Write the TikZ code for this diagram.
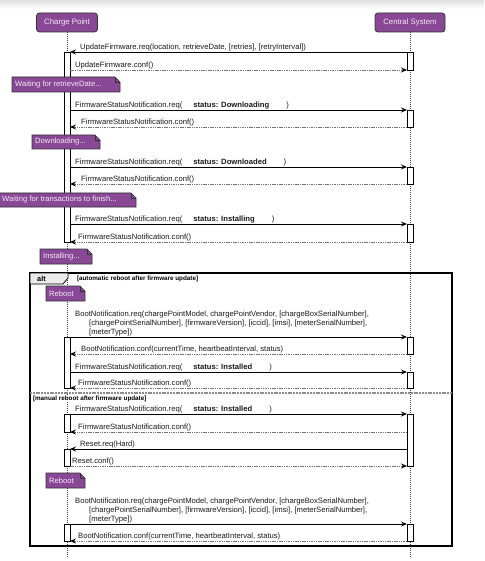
\documentclass[tikz,border=0pt]{standalone}
\usepackage{fontspec}
\setmainfont{Liberation Sans}
\usetikzlibrary{arrows.meta}
\definecolor{pum}{RGB}{137,72,150}
\definecolor{pumtext}{RGB}{245,232,247}
\newcommand{\NoteBox}[6]{%
  \filldraw[notefill] (#2,#3) -- ({#4-5},#3) -- (#4,{#3+5}) -- (#4,#5) -- (#2,#5) -- cycle;
  \draw[notefill, fill=none] ({#4-5},#3) -- ({#4-5},{#3+5}) -- (#4,{#3+5});
  \node[notetext] (#1) at ({#2+1},{(#3+#5)/2}) {#6};}
\newcommand{\Act}[4]{\node[actbox, minimum height={(#4-#3)*1pt}] (#1) at (#2,#3) {};}
\begin{document}
\begin{tikzpicture}[x=1pt,y=-1pt,
  part/.style={draw=black!80, line width=0.8pt, fill=pum, rounded corners=3pt, text=pumtext,
    font=\fontsize{7.8}{9}\selectfont, inner sep=0pt},
  lifeline/.style={draw=black!75, line width=0.7pt, dash pattern=on 1pt off 1pt},
  actbox/.style={draw=black, fill=white, line width=0.9pt, minimum width=6pt, inner sep=0pt, outer sep=0pt, anchor=north},
  req/.style={draw=black, line width=0.9pt, -{Stealth[length=6pt,width=5pt,inset=2pt]}},
  conf/.style={draw=black!55, line width=0.9pt, dash pattern=on 1.5pt off 0.8pt, -{Stealth[length=6pt,width=5pt,inset=2pt,black]}},
  msg/.style={font=\fontsize{7.65}{9}\selectfont, inner sep=0pt, anchor=base west, text=black!90},
  msgml/.style={font=\fontsize{7.65}{9}\selectfont, inner sep=0pt, anchor=south west, align=left, text=black!90},
  notefill/.style={draw=black!80, line width=0.7pt, fill=pum},
  notetext/.style={anchor=west, text=pumtext, font=\fontsize{7.65}{9}\selectfont, inner sep=2pt},
  frame/.style={draw=black, line width=1.2pt, inner sep=0pt, outer sep=0pt},
  tab/.style={draw=black, line width=0.8pt, fill=black!8},
  guard/.style={font=\bfseries\fontsize{6.3}{8}\selectfont, inner sep=0.8pt, anchor=west, fill=white},
  sepline/.style={draw=black!45, line width=1.1pt, dash pattern=on 2pt off 0.8pt}]
\useasboundingbox (0,0) rectangle (484,561);
\fill[white] (0,0) rectangle (484,561);
\shade[top color=black!12, bottom color=white] (0,0) rectangle (484,9);

% participants
\node[part, minimum width=61pt, minimum height=19pt] (cp) at (67,22.5) {Charge Point};
\node[part, minimum width=70pt, minimum height=19pt] (cs) at (410,22.5) {Central System};
\coordinate (cpEnd) at (67,558);
\coordinate (csEnd) at (410,558);
\draw[lifeline] (cp.south) -- (cpEnd);
\draw[lifeline] (cs.south) -- (csEnd);

% alt frame
\node[frame, minimum width=422pt, minimum height=273pt, anchor=north west] (altf) at (30,273) {};
\filldraw[tab] (altf.north west) -- (68,273) -- (68,278) -- (63,284) -- (30,284) -- cycle;
\node[font=\bfseries\fontsize{7.4}{8}\selectfont, inner sep=0pt, anchor=base west] (altlbl) at (37,281.6) {alt};
\node[guard] (g1) at (76,278.5) {[automatic reboot after firmware update]};
\coordinate (sepL) at (30,393);
\coordinate (sepR) at (452,393);
\draw[sepline] (sepL) -- (sepR);
\node[guard] (g2) at (32,398.5) {[manual reboot after firmware update]};

% activation boxes
\Act{cpA}{67}{52}{242}
\Act{cpB}{67}{337}{388}
\Act{cpC}{67}{414}{432}
\Act{cpD}{67}{449}{466}
\Act{cpE}{67}{524}{541}
\Act{csA}{410}{52}{70}
\Act{csB}{410}{110}{127}
\Act{csC}{410}{167}{184}
\Act{csD}{410}{224}{242}
\Act{csE}{410}{337}{354}
\Act{csF}{410}{372}{388}
\Act{csG}{410}{414}{466}
\Act{csH}{410}{524}{541}

% messages
\draw[req] (csA.north west) -- (cpA.north east);
\node[msg] (m1) at (80,49.5) {UpdateFirmware.req(location, retrieveDate, [retries], [retryInterval])};
\draw[conf] (cpA.east |- csA.south) -- (csA.south west);
\node[msg] (m2) at (75,67.5) {UpdateFirmware.conf()};

\NoteBox{n1}{12}{77}{120}{92}{Waiting for retrieveDate...}

\draw[req] (cpA.east |- csB.north) -- (csB.north west);
\node[msg] (m3) at (75,107.5) {FirmwareStatusNotification.req(\hspace{11pt}\textbf{status: Downloading}\hspace{17pt})};
\draw[conf] (csB.south west) -- (cpA.east |- csB.south);
\node[msg] (m4) at (81,124.5) {FirmwareStatusNotification.conf()};

\NoteBox{n2}{32}{135}{100}{149}{Downloading...}

\draw[req] (cpA.east |- csC.north) -- (csC.north west);
\node[msg] (m5) at (75,164.5) {FirmwareStatusNotification.req(\hspace{11pt}\textbf{status: Downloaded}\hspace{17pt})};
\draw[conf] (csC.south west) -- (cpA.east |- csC.south);
\node[msg] (m6) at (81,181.5) {FirmwareStatusNotification.conf()};

\NoteBox{n3}{-1}{193}{136}{207}{Waiting for transactions to finish...}

\draw[req] (cpA.east |- csD.north) -- (csD.north west);
\node[msg] (m7) at (75,221.5) {FirmwareStatusNotification.req(\hspace{11pt}\textbf{status: Installing}\hspace{17pt})};
\draw[conf] (csD.south west) -- (cpA.south east);
\node[msg] (m8) at (78,239.5) {FirmwareStatusNotification.conf()};

\NoteBox{n4}{40}{249}{92}{264}{Installing...}

% alt: automatic
\NoteBox{n5}{46}{286}{85}{301}{Reboot}
\draw[req] (cpB.north east) -- (csE.north west);
\node[msgml] (m9) at (75,336) {BootNotification.req(chargePointModel, chargePointVendor, [chargeBoxSerialNumber],\\
\hspace*{14pt}[chargePointSerialNumber], [firmwareVersion], [iccid], [imsi], [meterSerialNumber],\\
\hspace*{14pt}[meterType])};
\draw[conf] (csE.south west) -- (cpB.east |- csE.south);
\node[msg] (m10) at (81,351.5) {BootNotification.conf(currentTime, heartbeatInterval, status)};
\draw[req] (cpB.east |- csF.north) -- (csF.north west);
\node[msg] (m11) at (75,369.5) {FirmwareStatusNotification.req(\hspace{11pt}\textbf{status: Installed}\hspace{17pt})};
\draw[conf] (csF.south west) -- (cpB.south east);
\node[msg] (m12) at (78,385.5) {FirmwareStatusNotification.conf()};

% alt: manual
\draw[req] (cpC.north east) -- (csG.north west);
\node[msg] (m13) at (75,411.5) {FirmwareStatusNotification.req(\hspace{11pt}\textbf{status: Installed}\hspace{17pt})};
\draw[conf] (csG.west |- cpC.south) -- (cpC.south east);
\node[msg] (m14) at (78,429.5) {FirmwareStatusNotification.conf()};
\draw[req] (csG.west |- cpD.north) -- (cpD.north east);
\node[msg] (m15) at (80,446.5) {Reset.req(Hard)};
\draw[conf] (cpD.south east) -- (csG.south west);
\node[msg] (m16) at (72,463.5) {Reset.conf()};

\NoteBox{n6}{46}{473}{85}{488}{Reboot}
\draw[req] (cpE.north east) -- (csH.north west);
\node[msgml] (m17) at (75,523) {BootNotification.req(chargePointModel, chargePointVendor, [chargeBoxSerialNumber],\\
\hspace*{14pt}[chargePointSerialNumber], [firmwareVersion], [iccid], [imsi], [meterSerialNumber],\\
\hspace*{14pt}[meterType])};
\draw[conf] (csH.south west) -- (cpE.south east);
\node[msg] (m18) at (78,538.5) {BootNotification.conf(currentTime, heartbeatInterval, status)};
\end{tikzpicture}
\end{document}
